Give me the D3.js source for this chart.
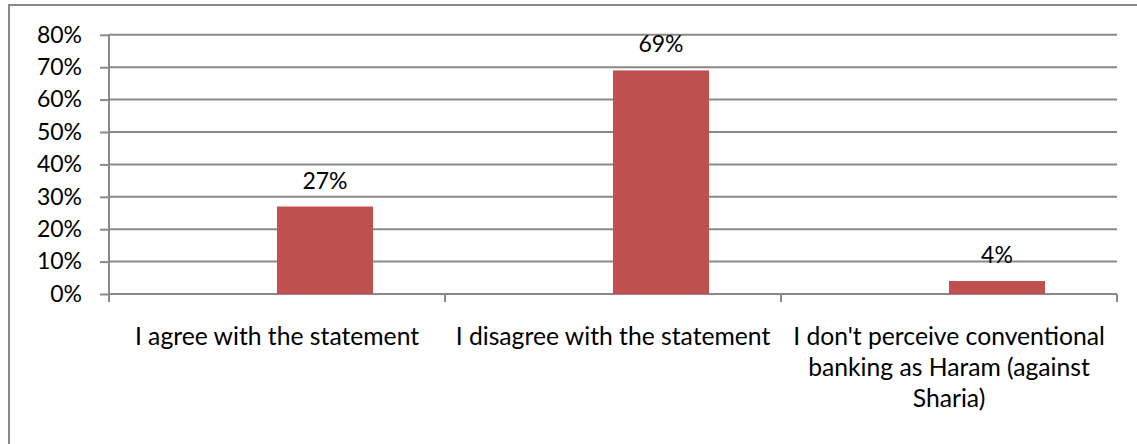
<!DOCTYPE html>
<html>
<head>
<meta charset="utf-8">
<script src="https://cdn.jsdelivr.net/npm/d3@7"></script>
<style>
  html, body { margin: 0; padding: 0; background: #fff; }
  svg { display: block; }
  text { font-family: Lato, "Open Sans", sans-serif; fill: #000; }
</style>
</head>
<body>
<svg id="chart" width="1137" height="444"></svg>
<script>
// ---- data ----
const categories = [
  "I agree with the statement",
  "I disagree with the statement",
  "I don't perceive conventional banking as Haram (against Sharia)"
];
const categoryLines = [
  ["I agree with the statement"],
  ["I disagree with the statement"],
  ["I don't perceive conventional", "banking as Haram (against", "Sharia)"]
];
const seriesNames = ["(blank)", "Responses"];
const values = [0.27, 0.69, 0.04];
const valueLabels = ["27%", "69%", "4%"];
const yTicks = [0, 0.1, 0.2, 0.3, 0.4, 0.5, 0.6, 0.7, 0.8];

// ---- layout ----
const svg = d3.select("#chart");
const W = 1137, H = 444;
const plot = { left: 109, right: 1117, top: 34.8, bottom: 294 };
const axisColor = "#898989";
const barColor = "#C0504D";
const numFont = 23;
const catFont = 24.7;

// outer frame
svg.append("rect")
  .attr("x", 9).attr("y", 5)
  .attr("width", W + 20).attr("height", H + 20)
  .attr("fill", "none").attr("stroke", axisColor).attr("stroke-width", 2);

const x = d3.scaleBand().domain(categories).range([plot.left, plot.right]).paddingInner(0).paddingOuter(0);
const y = d3.scaleLinear().domain([0, 0.8]).range([plot.bottom, plot.top]);
const barW = x.bandwidth() / 3.5;
const xSub = d3.scaleBand().domain(seriesNames).range([-barW, barW]);

// gridlines
svg.append("g").selectAll("line").data(yTicks.filter(d => d > 0)).join("line")
  .attr("x1", plot.left).attr("x2", plot.right)
  .attr("y1", d => y(d)).attr("y2", d => y(d))
  .attr("stroke", axisColor).attr("stroke-width", 2);

// y axis
const yAxis = d3.axisLeft(y).tickValues(yTicks).tickFormat(d3.format(".0%")).tickSize(9).tickPadding(18);
const gy = svg.append("g").attr("transform", `translate(${plot.left},0)`).call(yAxis);
gy.select(".domain").attr("stroke", axisColor).attr("stroke-width", 2).attr("d", `M0,${plot.top}V${plot.bottom}`);
gy.selectAll(".tick line").attr("stroke", axisColor).attr("stroke-width", 2);
gy.selectAll(".tick text").attr("font-size", numFont).attr("font-family", "Lato").attr("fill", "#000");

// x axis
const xAxis = d3.axisBottom(x).tickSize(0).tickFormat("");
const gx = svg.append("g").attr("transform", `translate(0,${plot.bottom})`).call(xAxis);
gx.select(".domain").attr("stroke", axisColor).attr("stroke-width", 2).attr("d", `M${plot.left},0H${plot.right}`);
const tickPos = categories.map(c => x(c)).concat([plot.right]);
gx.selectAll(".xtick").data(tickPos).join("line").attr("class", "xtick")
  .attr("x1", d => d).attr("x2", d => d).attr("y1", 0).attr("y2", 8)
  .attr("stroke", axisColor).attr("stroke-width", 2);

// category labels
const lineH = 31;
categories.forEach((c, i) => {
  const t = svg.append("text")
    .attr("text-anchor", "middle")
    .attr("font-size", catFont)
    .attr("x", x(c) + x.bandwidth() / 2)
    .attr("y", 345);
  categoryLines[i].forEach((ln, j) => {
    t.append("tspan").attr("x", x(c) + x.bandwidth() / 2).attr("y", 345 + j * lineH).text(ln);
  });
});

// bars
svg.append("g").selectAll("rect").data(values).join("rect")
  .attr("x", (d, i) => x(categories[i]) + x.bandwidth() / 2 + xSub("Responses"))
  .attr("width", xSub.bandwidth())
  .attr("y", d => y(d))
  .attr("height", d => y(0) - y(d))
  .attr("fill", barColor);

// value labels
svg.append("g").selectAll("text").data(values).join("text")
  .attr("text-anchor", "middle")
  .attr("font-size", numFont)
  .attr("x", (d, i) => x(categories[i]) + x.bandwidth() / 2 + xSub("Responses") + xSub.bandwidth() / 2)
  .attr("y", d => y(d) - 18)
  .text((d, i) => valueLabels[i]);
</script>
</body>
</html>
